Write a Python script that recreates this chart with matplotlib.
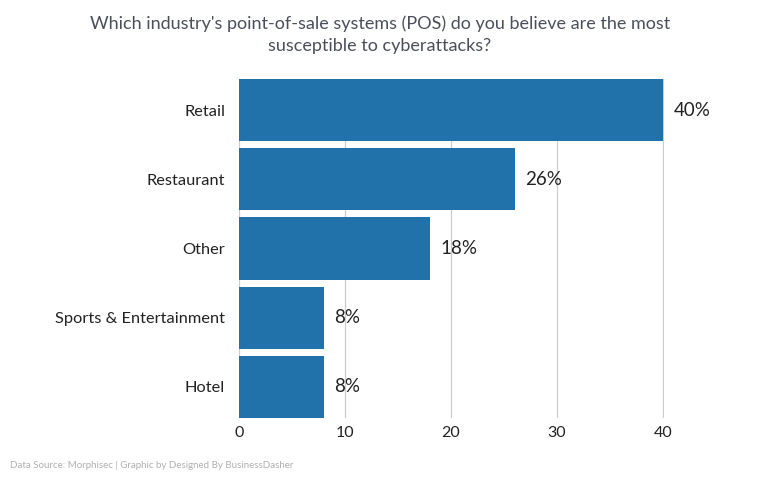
import matplotlib
matplotlib.use('Agg')
import matplotlib.pyplot as plt

categories = ['Retail', 'Restaurant', 'Other', 'Sports & Entertainment', 'Hotel']
values = [40, 26, 18, 8, 8]
xticks = [0, 10, 20, 30, 40]

BAR_COLOR = '#2171aa'
TEXT_COLOR = '#222222'

plt.rcParams['font.family'] = ['Lato', 'DejaVu Sans']

fig = plt.figure(figsize=(7.6, 4.8), dpi=100)
ax = fig.add_axes([239 / 760, 1 - 418 / 480, (664 - 239) / 760, (418 - 79) / 480])

ypos = list(range(len(categories)))
ax.barh(ypos, values, height=0.9, color=BAR_COLOR, zorder=2)
ax.set_ylim(len(categories) - 0.55, -0.45)
ax.set_xlim(0, 40.1)

for y, v in zip(ypos, values):
    ax.text(v + 1.0, y, f'{v}%', va='center', ha='left', fontsize=13.5,
            color=TEXT_COLOR)

ax.set_yticks(ypos)
ax.set_yticklabels(categories, fontsize=11.8, color=TEXT_COLOR)
ax.set_xticks(xticks)
ax.set_xticklabels([str(t) for t in xticks], fontsize=11.5, color=TEXT_COLOR)
ax.tick_params(axis='y', length=0, pad=10)
ax.tick_params(axis='x', length=0, pad=6)

ax.grid(axis='x', color='#cccccc', linewidth=0.9, zorder=0)
ax.grid(axis='y', visible=False)
for s in ax.spines.values():
    s.set_visible(False)

fig.text(0.5, 1 - 35 / 480, "Which industry's point-of-sale systems (POS) do you believe are the most\nsusceptible to cyberattacks?",
         ha='center', va='center', fontsize=13, color='#4a4f5a', linespacing=1.45)
fig.text(10 / 760, 1 - 465 / 480, 'Data Source: Morphisec | Graphic by Designed By BusinessDasher',
         ha='left', va='center', fontsize=7, color='#b0b0b0')

fig.savefig('out.png', dpi=100)
